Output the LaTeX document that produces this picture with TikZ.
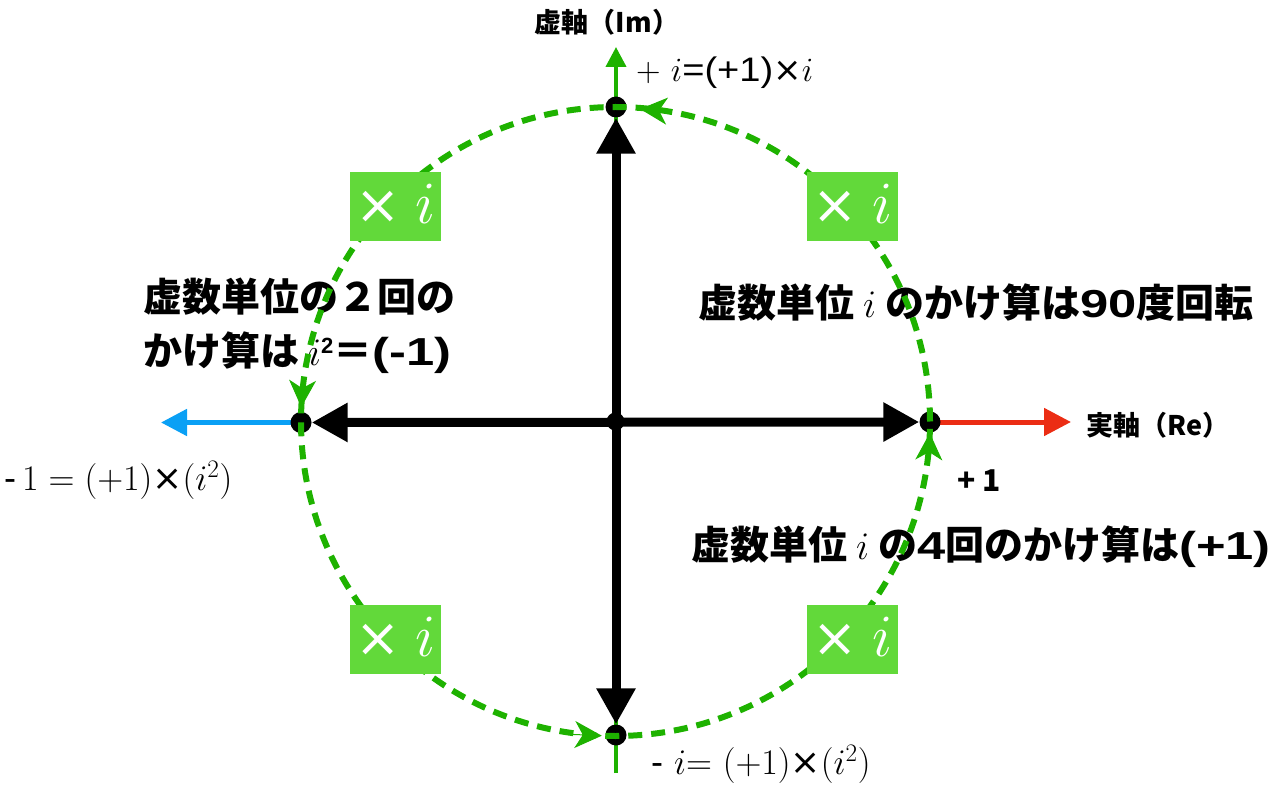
\RequirePackage{fix-cm}
\documentclass[tikz,border=0pt]{standalone}
\usepackage{fontspec}
\newfontfamily\jp{Noto Sans CJK JP}
\newfontfamily\lsans{Liberation Sans}
\newfontfamily\djv{DejaVu Sans}
\usetikzlibrary{arrows.meta}
\definecolor{dgreen}{RGB}{30,178,0}
\definecolor{bgreen}{RGB}{98,217,58}
\definecolor{ared}{RGB}{235,45,20}
\definecolor{ablue}{RGB}{10,160,245}
\pgfdeclarelayer{bg}
\pgfdeclarelayer{fg}
\pgfsetlayers{bg,main,fg}
\tikzset{
  dot/.style={circle,fill=black,inner sep=0pt,minimum size=21pt},
  cdot/.style={circle,fill=black,inner sep=0pt,minimum size=18pt},
  blackaxis/.style={line width=9pt,black,{Triangle[length=36pt,width=37pt]}-{Triangle[length=36pt,width=37pt]}},
  gbox/.style={fill=bgreen,text=white,minimum width=91pt,minimum height=69pt,inner sep=0pt,
    text depth=5pt},
  big/.style={font=\jp\bfseries\fontsize{39}{39}\selectfont,inner sep=0pt,anchor=west},
  axlbl/.style={font=\jp\bfseries\fontsize{27}{27}\selectfont,inner sep=0pt},
  mlbl/.style={inner sep=0pt,anchor=west},
  gtip/.style={dgreen,line width=1pt,-{Stealth[length=27pt,width=27pt,inset=8pt]}}
}
\newcommand{\boxtxt}{{\djv\fontsize{54}{54}\selectfont ×}\hspace{14pt}{\fontsize{60}{60}\selectfont$i$}}
\newcommand{\xx}{{\djv ×}}
\newcommand{\widelat}[1]{\scalebox{1.3}[1]{\lsans #1}}
\begin{document}
\begin{tikzpicture}[x=1pt,y=-1pt]
\useasboundingbox (0,0) rectangle (1280,786);
% points
\coordinate (C) at (615.5,421.5);
\node[dot] (T) at (616,107) {};
\node[dot] (B) at (616,735) {};
\node[dot] (L) at (301,422.5) {};
\node[dot] (R) at (930,422) {};
\node[cdot] (O) at (615.5,421.5) {};
\coordinate (gt) at (616,47);
\coordinate (gb) at (616,773);
\coordinate (re) at (1071,422);
\coordinate (be) at (161,422.5);
% arrowhead positions on the dashed circle
\coordinate (a1s) at (670,111.3);
\coordinate (a1e) at (640.1,109);
\coordinate (a2s) at (302.7,377.2);
\coordinate (a2e) at (301.3,407.2);
\coordinate (a3s) at (571.8,734.4);
\coordinate (a3e) at (601.8,735.7);
\coordinate (a4s) at (928.7,463);
\coordinate (a4e) at (929.8,433);
% axes
\begin{pgfonlayer}{bg}
\draw[dgreen,line width=4pt,-{Triangle[length=20pt,width=20pt]}] (gb) -- (gt);
\draw[ared,line width=5pt,-{Triangle[length=27pt,width=27pt]}] (R.center) -- (re);
\draw[ablue,line width=5pt,-{Triangle[length=26pt,width=26pt]}] (L.center) -- (be);
\draw[blackaxis] (L) -- (R);
\draw[blackaxis] (B) -- (T);
\end{pgfonlayer}
% labels
\node[axlbl] (imlbl) at (607,22) {虚軸（Im）};
\node[axlbl] (relbl) at (1158,425) {実軸（Re）};
\node[mlbl] (plusi) at (636,73) {\fontsize{34}{34}\selectfont $+\ i$\scalebox{1.12}[1]{\lsans =(+1)}\xx$i$};
\node[mlbl] (minus1) at (4,480) {\fontsize{36}{36}\selectfont {\lsans -}\,$1 = (+1)$\xx$(i^2)$};
\node[mlbl] (minusi) at (651,764) {\fontsize{36}{36}\selectfont {\lsans -}\ $i{=}\ (+1)$\xx$(i^2)$};
\node[inner sep=0pt,font=\jp\bfseries\fontsize{30}{30}\selectfont] (plus1) at (979,481) {+ 1};
\node[big] (t1) at (143,297) {虚数単位の２回の};
\node[big] (t2) at (143,353) {かけ算は $i$\raisebox{12pt}{\lsans\fontsize{22}{22}\selectfont 2}＝\widelat{(-1)}};
\node[big] (t3) at (698,303) {虚数単位 $i$ のかけ算は\widelat{90}度回転};
\node[big] (t4) at (691,547) {虚数単位 $i$ の\widelat{4}回のかけ算は\widelat{(+1)}};
% dashed circle
\begin{pgfonlayer}{fg}
\draw[dgreen,line width=6pt,dash pattern=on 14pt off 9pt]
  (C) ++(314.5,0) arc[start angle=0,end angle=-360,radius=314.5];
\draw[gtip] (a1s) -- (a1e);
\draw[gtip] (a2s) -- (a2e);
\draw[gtip] (a3s) -- (a3e);
\draw[gtip] (a4s) -- (a4e);
\node[gbox] (b1) at (852.5,206.5) {\boxtxt};
\node[gbox] (b2) at (395.5,206.5) {\boxtxt};
\node[gbox] (b3) at (395.5,639.5) {\boxtxt};
\node[gbox] (b4) at (852.5,639.5) {\boxtxt};
\end{pgfonlayer}
\end{tikzpicture}
\end{document}
